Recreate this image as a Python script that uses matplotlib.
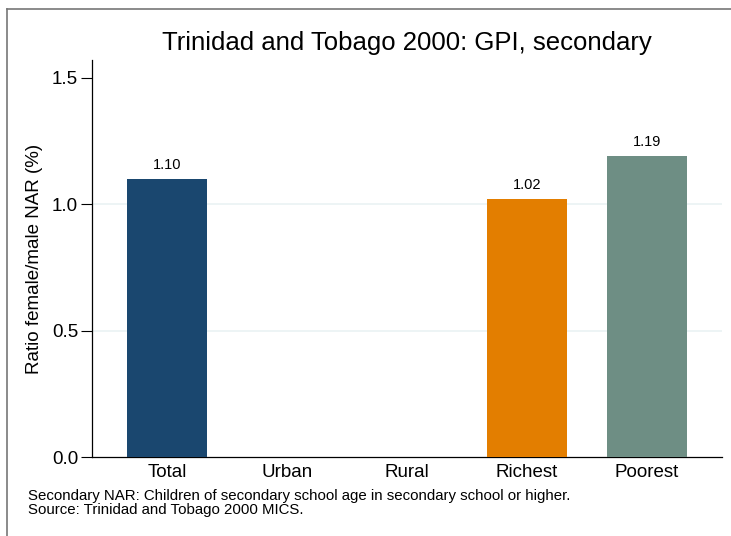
import matplotlib
matplotlib.use('Agg')
import matplotlib.pyplot as plt
from matplotlib.lines import Line2D

# 数据
categories = ['Total', 'Urban', 'Rural', 'Richest', 'Poorest']
values = [1.10, None, None, 1.02, 1.19]
labels = ['1.10', '', '', '1.02', '1.19']
colors = ['#1a476f', '#90353b', '#55752f', '#e37e00', '#6e8e84']

plt.rcParams['font.family'] = ['Liberation Sans', 'DejaVu Sans']

fig = plt.figure(figsize=(7.31, 5.36), dpi=100)
W, H = 731, 536

# 外框 (只有上边和左边可见)
fig.lines.append(Line2D([6.5 / W, 6.5 / W], [0, (H - 8.5) / H], transform=fig.transFigure,
                        color='#777777', linewidth=1.2))
fig.lines.append(Line2D([6.5 / W, 1], [(H - 8.5) / H, (H - 8.5) / H], transform=fig.transFigure,
                        color='#777777', linewidth=1.2))

ax = fig.add_axes([92 / W, (H - 457) / H, (722 - 92) / W, (457 - 60) / H])

for i, v in enumerate(values):
    if v is None:
        continue
    ax.bar(i, v, width=0.667, color=colors[i], zorder=3)
    ax.annotate(labels[i], (i, v), xytext=(0, 5), textcoords='offset points',
                ha='center', va='bottom', fontsize=10.5, zorder=4)

ax.set_xlim(-0.625, 4.625)
ax.set_ylim(0, 1.57)
ax.set_yticks([0, 0.5, 1.0, 1.5])
ax.set_yticklabels(['0.0', '0.5', '1.0', '1.5'], fontsize=13.5)
ax.set_xticks(range(len(categories)))
ax.set_xticklabels(categories, fontsize=13.5)
ax.tick_params(axis='x', length=0, pad=5)
ax.tick_params(axis='y', length=8, width=0.8, pad=2)

for y in [0.5, 1.0]:
    ax.axhline(y, color='#eaf2f3', linewidth=1.2, zorder=1)

ax.spines['top'].set_visible(False)
ax.spines['right'].set_visible(False)
ax.spines['left'].set_linewidth(0.9)
ax.spines['bottom'].set_linewidth(0.9)

ax.set_ylabel('Ratio female/male NAR (%)', fontsize=13.5, va='center')
ax.yaxis.set_label_coords((35 - 92) / (722 - 92), 0.5)

fig.text(407 / W, (H - 43) / H, 'Trinidad and Tobago 2000: GPI, secondary',
         ha='center', va='center', fontsize=18.5)

fig.text(28 / W, (H - 496) / H, 'Secondary NAR: Children of secondary school age in secondary school or higher.',
         ha='left', va='center', fontsize=10.8)
fig.text(28 / W, (H - 510) / H, 'Source: Trinidad and Tobago 2000 MICS.',
         ha='left', va='center', fontsize=10.8)

fig.savefig('out.png', dpi=100)
